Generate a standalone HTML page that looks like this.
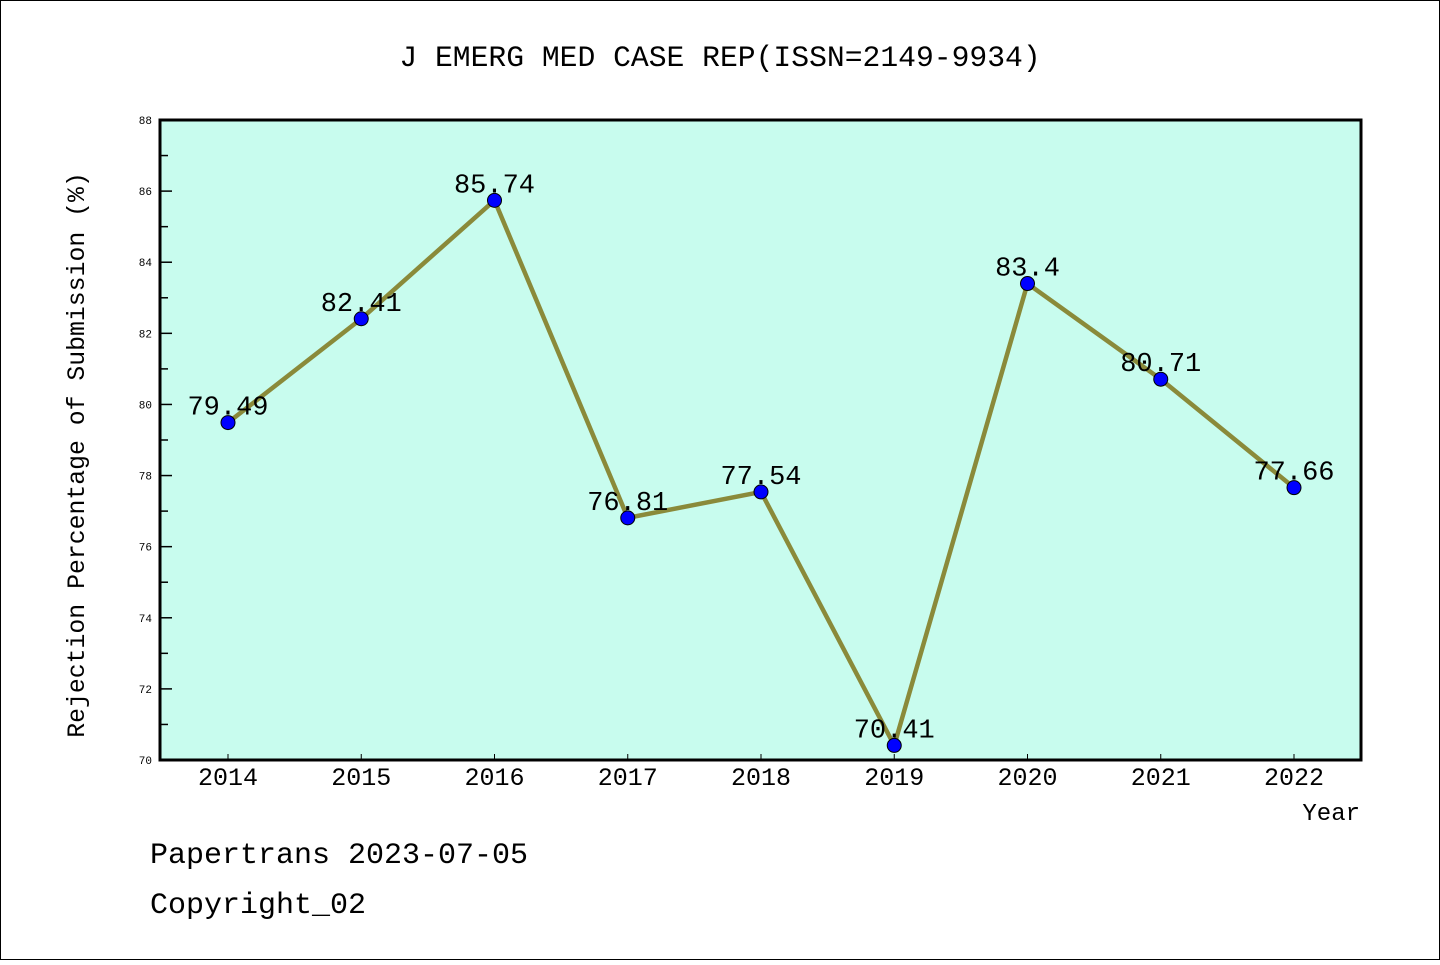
<!DOCTYPE html>
<html><head><meta charset="utf-8"><style>
html,body{margin:0;padding:0;background:#fff;}
svg text{font-family:"Liberation Mono",monospace;}
</style></head><body>
<svg id="chart" width="1440" height="960" xmlns="http://www.w3.org/2000/svg">
<rect x="0.5" y="0.5" width="1439" height="959" fill="#fff" stroke="#000"/>
<text x="720" y="66" font-size="29.7" text-anchor="middle">J EMERG MED CASE REP(ISSN=2149-9934)</text>
<rect x="160" y="120" width="1201" height="640" fill="#c8fcee"/>
<g id="yaxis"></g>
<g id="xaxis"></g>
<g id="series"></g>
<rect x="160" y="120" width="1201" height="640" fill="none" stroke="#000" stroke-width="3"/>
<text transform="translate(84,455) rotate(-90)" font-size="24.8" text-anchor="middle">Rejection Percentage of Submission (%)</text>
<text x="1360" y="820" font-size="24" text-anchor="end">Year</text>
<text x="150" y="863" font-size="30">Papertrans 2023-07-05</text>
<text x="150" y="913" font-size="30">Copyright_02</text>
</svg>
<script>
const years = ["2014","2015","2016","2017","2018","2019","2020","2021","2022"];
const values = [79.49, 82.41, 85.74, 76.81, 77.54, 70.41, 83.4, 80.71, 77.66];
const valueLabels = ["79.49","82.41","85.74","76.81","77.54","70.41","83.4","80.71","77.66"];
const yTicks = [70,72,74,76,78,80,82,84,86,88];
const yMin = 70, yMax = 88;
const NS = "http://www.w3.org/2000/svg";
const px0 = 160, px1 = 1361, py0 = 120, py1 = 760;
function xScale(i){ return 228 + i * (1294 - 228) / (years.length - 1); }
function yScale(v){ return py1 - (v - yMin) / (yMax - yMin) * (py1 - py0); }
function mk(tag, attrs, parent){ const e = document.createElementNS(NS, tag); for (const k in attrs) e.setAttribute(k, attrs[k]); parent.appendChild(e); return e; }
const ya = document.getElementById('yaxis');
yTicks.forEach((t, i) => {
  const y = yScale(t);
  const tk = mk('line', {x1: px0, x2: px0 + 12, y1: y, y2: y, stroke: '#000', 'stroke-width': 1.5}, ya);
  
  
  const lb = mk('text', {x: 152, y: y + 4, 'font-size': 11, 'text-anchor': 'end'}, ya);
  lb.textContent = t;
  
  
  if (i < yTicks.length - 1) {
    const ym = yScale(t + 1);
    const mn = mk('line', {x1: px0, x2: px0 + 8, y1: ym, y2: ym, stroke: '#000', 'stroke-width': 1.5}, ya);
    
    
  }
});
const xa = document.getElementById('xaxis');
years.forEach((yr, i) => {
  const x = xScale(i);
  const tk = mk('line', {x1: x, x2: x, y1: py1, y2: py1 - 6, stroke: '#000', 'stroke-width': 1}, xa);
  
  
  const lb = mk('text', {x: x, y: 785, 'font-size': 25, 'text-anchor': 'middle'}, xa);
  lb.textContent = yr;
  
  
});
const sg = document.getElementById('series');
const pts = values.map((v, i) => xScale(i) + ',' + yScale(v)).join(' ');
const line = mk('polyline', {points: pts, fill: 'none', stroke: '#8a8a3a', 'stroke-width': 4.5, 'stroke-linejoin': 'round'}, sg);


values.forEach((v, i) => {
  const c = mk('circle', {cx: xScale(i), cy: yScale(v), r: 7, fill: '#0000ff', stroke: '#000', 'stroke-width': 1}, sg);
  
  
});
values.forEach((v, i) => {
  const t = mk('text', {x: xScale(i), y: yScale(v) - 8, 'font-size': 27, 'text-anchor': 'middle'}, sg);
  t.textContent = valueLabels[i];
  
  
});
</script>
</body></html>
